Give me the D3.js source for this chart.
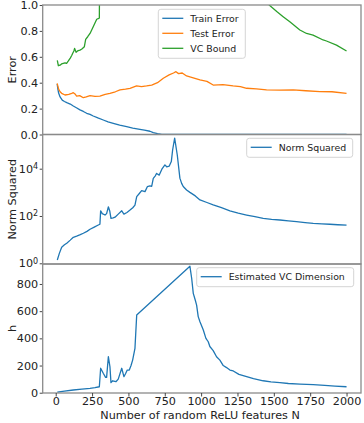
<!DOCTYPE html>
<html>
<head>
<meta charset="utf-8">
<script src="https://cdn.jsdelivr.net/npm/d3@7"></script>
<style>
  body { margin: 0; background: #fff; }
  svg { display: block; font-family: 'DejaVu Sans', sans-serif; }
</style>
</head>
<body>
<div id="root"></div>
<script>
const width = 364;
const height = 423;

// Data

const trainN = [10, 15, 20, 30, 45, 60, 76, 100, 121, 145, 167, 190, 213, 236, 258, 290, 327, 360, 396, 440, 488, 530, 579, 610, 648, 671, 700, 730, 800, 1000, 1250, 1500, 1750, 2000];
const trainErr = [0.39, 0.35, 0.32, 0.29, 0.265, 0.255, 0.246, 0.235, 0.22, 0.205, 0.19, 0.178, 0.164, 0.155, 0.143, 0.128, 0.112, 0.098, 0.086, 0.072, 0.06, 0.05, 0.04, 0.033, 0.025, 0.015, 0.006, 0.001, 0, 0, 0, 0, 0, 0];

const testN = [10, 20, 30, 41, 64, 90, 110, 121, 135, 144, 165, 190, 210, 236, 270, 304, 340, 373, 410, 442, 480, 511, 556, 590, 625, 660, 700, 740, 780, 810, 827, 845, 870, 900, 940, 992, 1040, 1083, 1150, 1220, 1270, 1313, 1380, 1450, 1540, 1633, 1720, 1817, 1900, 2000];
const testErr = [0.395, 0.35, 0.33, 0.318, 0.305, 0.31, 0.318, 0.323, 0.31, 0.297, 0.3, 0.284, 0.29, 0.3, 0.295, 0.297, 0.31, 0.318, 0.33, 0.344, 0.35, 0.357, 0.375, 0.37, 0.375, 0.382, 0.4, 0.434, 0.46, 0.475, 0.485, 0.47, 0.475, 0.452, 0.44, 0.421, 0.41, 0.382, 0.385, 0.375, 0.37, 0.357, 0.352, 0.344, 0.343, 0.344, 0.338, 0.331, 0.33, 0.318];

const vcN = [11, 18, 30, 40, 52, 64, 75, 87, 100, 110, 117, 125, 130, 140, 150, 167, 180, 197, 206, 220, 236, 258, 282, 296, 300, 310, 600, 920, 1200, 1400, 1440, 1468, 1520, 1564, 1610, 1679, 1725, 1770, 1839, 1862, 1931, 2000];
const vcBound = [0.573, 0.531, 0.535, 0.545, 0.55, 0.554, 0.55, 0.568, 0.59, 0.61, 0.627, 0.645, 0.665, 0.635, 0.645, 0.652, 0.66, 0.678, 0.735, 0.755, 0.78, 0.832, 0.89, 0.897, 0.9, 2.5, 5, 8, 2.5, 1.2, 1.05, 1.0, 0.95, 0.91, 0.87, 0.807, 0.78, 0.768, 0.73, 0.722, 0.69, 0.645];

const normN = [11, 25, 41, 60, 76, 100, 121, 144, 165, 190, 215, 236, 265, 293, 304, 309, 320, 339, 350, 362, 372, 380, 395, 408, 430, 454, 469, 490, 511, 530, 545, 557, 575, 591, 614, 630, 648, 660, 671, 685, 694, 712, 730, 751, 763, 781, 795, 804, 818, 836, 854, 866, 877, 900, 923, 960, 992, 1040, 1083, 1140, 1198, 1255, 1313, 1370, 1427, 1485, 1542, 1600, 1656, 1715, 1771, 1830, 1885, 1940, 2000];
const normSq = [1.38, 2.63, 4.79, 6.03, 7.08, 9.55, 12.6, 14.1, 15.8, 18.6, 22.4, 27.5, 33.9, 41.7, 44.7, 166, 126, 110, 126, 245, 158, 79.4, 83.2, 89.1, 120, 166, 120, 141, 178, 224, 288, 661, 891, 1175, 1072, 1738, 1862, 1778, 3890, 5012, 6310, 5370, 9550, 14450, 12020, 12880, 19950, 61660, 195000, 38020, 3981, 2399, 1778, 1259, 1000, 708, 479, 372, 295, 224, 166, 132, 110, 93.3, 79.4, 72.4, 67.6, 61.7, 57.5, 52.5, 49, 46.8, 44.7, 42.7, 40.7];

const dimN = [11, 60, 121, 180, 236, 270, 300, 309, 327, 343, 350, 362, 373, 380, 392, 414, 430, 454, 469, 480, 492, 506, 518, 529, 545, 557, 923, 935, 946, 960, 969, 980, 992, 1015, 1033, 1049, 1060, 1083, 1106, 1129, 1152, 1175, 1198, 1221, 1260, 1313, 1360, 1427, 1480, 1542, 1600, 1680, 1771, 1850, 1920, 2000];
const vcDim = [5, 12, 20, 26, 32, 37, 44, 180, 143, 113, 113, 265, 191, 74, 88, 81, 100, 180, 118, 140, 167, 167, 200, 240, 327, 572, 930, 842, 731, 680, 645, 560, 522, 461, 400, 375, 340, 310, 265, 240, 200, 185, 167, 160, 135, 118, 103, 88, 80, 74, 68, 63, 59, 54, 49, 44];

const xTicks = [0, 250, 500, 750, 1000, 1250, 1500, 1750, 2000];
const errTicks = [0, 0.2, 0.4, 0.6, 0.8, 1.0];
const normTicks = [1, 100, 10000];
const dimTicks = [0, 200, 400, 600, 800];

const colors = { blue: '#1f77b4', orange: '#ff7f0e', green: '#2ca02c' };

// Layout

const plotLeft = 42.7;
const plotRight = 361;
const panels = [
  { top: 5, bottom: 134.5 },
  { top: 134.5, bottom: 264 },
  { top: 264, bottom: 393 },
];

const svg = d3
  .select('#root')
  .append('svg')
  .attr('width', width)
  .attr('height', height);

const defs = svg.append('defs');
panels.forEach((p, i) => {
  defs
    .append('clipPath')
    .attr('id', `clip${i}`)
    .append('rect')
    .attr('x', plotLeft)
    .attr('y', p.top)
    .attr('width', plotRight - plotLeft)
    .attr('height', p.bottom - p.top);
});

// Scales

const xScale = d3.scaleLinear().domain([-89.5, 2099.5]).range([plotLeft, plotRight]);

const yErr = d3.scaleLinear().domain([0, 1]).range([panels[0].bottom, panels[0].top]);
const yNorm = d3
  .scaleLog()
  .domain([Math.pow(10, -0.03), Math.pow(10, 5.446)])
  .range([panels[1].bottom, panels[1].top]);
const yDim = d3.scaleLinear().domain([-2, 947]).range([panels[2].bottom, panels[2].top]);

function drawLine(i, xs, ys, yScale, color) {
  const pts = xs.map((n, k) => [n, ys[k]]);
  const line = d3
    .line()
    .x((d) => xScale(d[0]))
    .y((d) => yScale(d[1]));
  svg
    .append('path')
    .datum(pts)
    .attr('clip-path', `url(#clip${i})`)
    .attr('fill', 'none')
    .attr('stroke', color)
    .attr('stroke-width', 1.3)
    .attr('stroke-linejoin', 'round')
    .attr('d', line);
}

function styleAxis(g) {
  g.select('.domain').remove();
  g.selectAll('.tick line').attr('stroke', '#333').attr('stroke-width', 0.9);
  g.selectAll('.tick text')
    .attr('fill', '#222')
    .style('font-size', '11.2px')
    .style('font-family', "'DejaVu Sans', sans-serif");
}

function yAxis(yScale, ticks, fmt) {
  const g = svg
    .append('g')
    .attr('transform', `translate(${plotLeft}, 0)`)
    .call(d3.axisLeft(yScale).tickValues(ticks).tickFormat(fmt).tickSize(3).tickPadding(1.5).tickSizeOuter(0));
  styleAxis(g);
  return g;
}

function frame(p) {
  svg
    .append('rect')
    .attr('x', plotLeft)
    .attr('y', p.top)
    .attr('width', plotRight - plotLeft)
    .attr('height', p.bottom - p.top)
    .attr('fill', 'none')
    .attr('stroke', '#8a8a8a')
    .attr('stroke-width', 1.3);
}

function legend(x0, y0, w, rows) {
  const rowH = 15;
  const g = svg.append('g').attr('transform', `translate(${x0}, ${y0})`);
  g.append('rect')
    .attr('width', w)
    .attr('height', rows.length * rowH + 4)
    .attr('rx', 2.5)
    .attr('fill', '#fff')
    .attr('fill-opacity', 0.8)
    .attr('stroke', '#d0d0d0')
    .attr('stroke-width', 0.9);
  rows.forEach((r, i) => {
    const cy = 9 + i * rowH;
    g.append('line')
      .attr('x1', 4)
      .attr('x2', 25)
      .attr('y1', cy)
      .attr('y2', cy)
      .attr('stroke', r.color)
      .attr('stroke-width', 1.3);
    g.append('text')
      .attr('x', 32)
      .attr('y', cy + 3.4)
      .attr('fill', '#222')
      .style('font-size', '9.4px')
      .text(r.label);
  });
}

function yLabel(p, text) {
  svg
    .append('text')
    .attr('transform', `translate(15.5, ${(p.top + p.bottom) / 2}) rotate(-90)`)
    .attr('text-anchor', 'middle')
    .attr('fill', '#222')
    .style('font-size', '11.2px')
    .text(text);
}

// Panel 1: errors

drawLine(0, trainN, trainErr, yErr, colors.blue);
drawLine(0, testN, testErr, yErr, colors.orange);
drawLine(0, vcN, vcBound, yErr, colors.green);
yAxis(yErr, errTicks, d3.format('.1f'));
frame(panels[0]);
yLabel(panels[0], 'Error');
legend(158.3, 9.3, 87, [
  { label: 'Train Error', color: colors.blue },
  { label: 'Test Error', color: colors.orange },
  { label: 'VC Bound', color: colors.green },
]);

// Panel 2: norm squared (log)

drawLine(1, normN, normSq, yNorm, colors.blue);
const normAxis = yAxis(yNorm, normTicks, () => '');
normAxis.selectAll('.tick text').each(function (d) {
  const t = d3.select(this);
  t.append('tspan').text('10');
  t.append('tspan')
    .attr('dy', '-0.45em')
    .style('font-size', '8px')
    .text(Math.round(Math.log10(d)));
});
frame(panels[1]);
yLabel(panels[1], 'Norm Squared');
legend(246.7, 138.3, 106, [{ label: 'Norm Squared', color: colors.blue }]);

// Panel 3: estimated VC dimension

drawLine(2, dimN, vcDim, yDim, colors.blue);
yAxis(yDim, dimTicks, d3.format('d'));
frame(panels[2]);
yLabel(panels[2], 'h');
legend(196.7, 267.7, 157, [{ label: 'Estimated VC Dimension', color: colors.blue }]);

const xAxis = svg
  .append('g')
  .attr('transform', `translate(0, ${panels[2].bottom})`)
  .call(d3.axisBottom(xScale).tickValues(xTicks).tickFormat(d3.format('d')).tickSize(3.5).tickPadding(0.5).tickSizeOuter(0));
styleAxis(xAxis);

svg
  .append('text')
  .attr('x', xScale(1000) - 1)
  .attr('y', 419)
  .attr('text-anchor', 'middle')
  .attr('fill', '#222')
  .style('font-size', '11.2px')
  .text('Number of random ReLU features N');
</script>
</body>
</html>
